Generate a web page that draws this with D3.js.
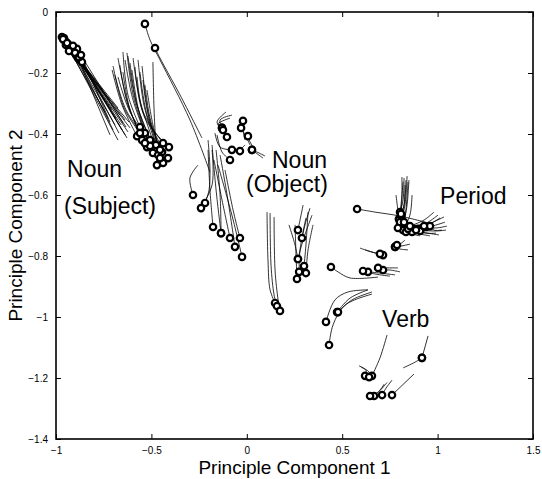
<!DOCTYPE html>
<html><head><meta charset="utf-8">
<script src="https://cdn.jsdelivr.net/npm/d3@7"></script>
<style>body{margin:0;background:#fff}svg{display:block}text{font-family:"Liberation Sans",Arial,sans-serif}</style>
</head><body><svg id="c" width="542" height="479"></svg>
<script>
const xTicks=[-1,-0.5,0,0.5,1,1.5];
const yTicks=[0,-0.2,-0.4,-0.6,-0.8,-1,-1.2,-1.4];
const xLabel="Principle Component 1";
const yLabel="Principle Component 2";
// trajectories: each is a list of [pc1, pc2] points; the circle marks the last point
const nounSubjectA=[
[[-0.717,-0.289],[-0.969,-0.082]],[[-0.675,-0.315],[-0.958,-0.092]],[[-0.665,-0.338],[-0.948,-0.098]],
[[-0.727,-0.348],[-0.937,-0.105]],[[-0.638,-0.354],[-0.927,-0.115]],[[-0.691,-0.370],[-0.916,-0.125]],
[[-0.654,-0.387],[-0.906,-0.131]],[[-0.623,-0.393],[-0.895,-0.141]],[[-0.717,-0.403],[-0.885,-0.151]],
[[-0.628,-0.413],[-0.874,-0.157]],[[-0.612,-0.380],[-0.948,-0.108]],[[-0.675,-0.420],[-0.927,-0.125]],
[[-0.649,-0.364],[-0.890,-0.121]],[[-0.706,-0.321],[-0.958,-0.085]],[[-0.638,-0.403],[-0.864,-0.164]],
[[-0.743,-0.328],[-0.963,-0.089]],[[-0.686,-0.348],[-0.942,-0.102]],[[-0.659,-0.370],[-0.921,-0.118]],
[[-0.701,-0.387],[-0.900,-0.134]],[[-0.633,-0.377],[-0.880,-0.148]],[[-0.670,-0.397],[-0.911,-0.111]],
[[-0.617,-0.361],[-0.932,-0.128]],[[-0.717,-0.361],[-0.869,-0.141]]];
const nounSubjectB=[
[[-0.649,-0.131],[-0.623,-0.272],[-0.560,-0.377]],[[-0.628,-0.134],[-0.596,-0.272],[-0.534,-0.397]],
[[-0.706,-0.190],[-0.654,-0.305],[-0.575,-0.407]],[[-0.691,-0.207],[-0.633,-0.321],[-0.518,-0.426]],
[[-0.675,-0.213],[-0.612,-0.328],[-0.497,-0.436]],[[-0.612,-0.167],[-0.575,-0.305],[-0.481,-0.452]],
[[-0.586,-0.180],[-0.549,-0.321],[-0.439,-0.430]],[[-0.575,-0.213],[-0.534,-0.348],[-0.408,-0.443]],
[[-0.560,-0.197],[-0.523,-0.338],[-0.444,-0.459]],[[-0.544,-0.223],[-0.507,-0.361],[-0.413,-0.479]],
[[-0.523,-0.256],[-0.492,-0.370],[-0.439,-0.495]],[[-0.492,-0.164],[-0.486,-0.321],[-0.471,-0.502]],
[[-0.638,-0.157],[-0.596,-0.289],[-0.492,-0.462]],[[-0.596,-0.151],[-0.560,-0.289],[-0.465,-0.469]],
[[-0.665,-0.174],[-0.623,-0.305],[-0.523,-0.443]],
[[-0.675,-0.151],[-0.628,-0.289],[-0.549,-0.420]],[[-0.623,-0.144],[-0.581,-0.295],[-0.507,-0.420]],
[[-0.570,-0.157],[-0.539,-0.305],[-0.476,-0.436]],[[-0.701,-0.177],[-0.643,-0.315],[-0.560,-0.397]],
[[-0.534,-0.239],[-0.507,-0.348],[-0.455,-0.452]],[[-0.602,-0.190],[-0.565,-0.328],[-0.507,-0.439]],
[[-0.549,-0.177],[-0.518,-0.328],[-0.455,-0.479]],[[-0.649,-0.197],[-0.612,-0.321],[-0.534,-0.430]]];
const longTracks=[
[[-0.193,-0.525],[-0.298,-0.354],[-0.455,-0.157],[-0.507,-0.092],[-0.534,-0.039]],
[[-0.235,-0.413],[-0.350,-0.272],[-0.455,-0.151],[-0.481,-0.118]]];
const midClusterC=[
[[-0.078,-0.338],[-0.140,-0.354],[-0.130,-0.380]],[[-0.088,-0.348],[-0.151,-0.367],[-0.130,-0.380]],
[[-0.109,-0.328],[-0.156,-0.361],[-0.125,-0.387]],[[-0.167,-0.397],[-0.140,-0.443],[-0.078,-0.452]],
[[-0.156,-0.403],[-0.130,-0.459],[-0.088,-0.485]],[[-0.151,-0.370],[-0.130,-0.393],[-0.104,-0.410]],
[[0.085,-0.479],[0.048,-0.462],[0.027,-0.452]],[[0.095,-0.472],[0.053,-0.459],[0.027,-0.452]],
[[-0.009,-0.420],[-0.020,-0.387],[-0.020,-0.357]],[[0.017,-0.436],[-0.009,-0.403],[-0.030,-0.380]],
[[0.043,-0.452],[0.017,-0.426],[0.006,-0.407]],[[-0.009,-0.436],[-0.025,-0.446],[-0.036,-0.456]]];
const lowClusterD=[
[[-0.256,-0.502],[-0.298,-0.544],[-0.282,-0.600]],
[[-0.203,-0.420],[-0.193,-0.518],[-0.198,-0.584],[-0.219,-0.626]],
[[-0.182,-0.452],[-0.182,-0.567],[-0.240,-0.643]],
[[-0.203,-0.452],[-0.193,-0.584],[-0.177,-0.705]],
[[-0.182,-0.436],[-0.161,-0.584],[-0.135,-0.725]],
[[-0.161,-0.452],[-0.140,-0.600],[-0.135,-0.725]],
[[-0.172,-0.485],[-0.130,-0.616],[-0.088,-0.741]],
[[-0.140,-0.469],[-0.099,-0.616],[-0.062,-0.770]],
[[-0.114,-0.518],[-0.072,-0.649],[-0.036,-0.741]],
[[-0.151,-0.502],[-0.078,-0.666],[-0.025,-0.803]]];
const nounObject=[
[[0.106,-0.656],[0.111,-0.813],[0.122,-0.911],[0.148,-0.954]],
[[0.122,-0.659],[0.127,-0.830],[0.143,-0.928],[0.158,-0.964]],
[[0.143,-0.672],[0.148,-0.846],[0.164,-0.944],[0.174,-0.980]],
[[0.295,-0.633],[0.279,-0.682],[0.268,-0.715]],
[[0.331,-0.643],[0.305,-0.698],[0.289,-0.741]],
[[0.342,-0.666],[0.295,-0.748],[0.268,-0.810]],
[[0.321,-0.656],[0.310,-0.764],[0.300,-0.833]],
[[0.310,-0.675],[0.279,-0.780],[0.274,-0.852]],
[[0.347,-0.698],[0.321,-0.780],[0.310,-0.856]],
[[0.253,-0.698],[0.258,-0.797],[0.263,-0.875]],
[[0.221,-0.698],[0.253,-0.764],[0.268,-0.810]]];
const period=[
[[0.824,-0.544],[0.819,-0.616],[0.803,-0.656]],[[0.834,-0.551],[0.824,-0.633],[0.797,-0.679]],
[[0.840,-0.538],[0.829,-0.633],[0.803,-0.698]],[[0.845,-0.557],[0.834,-0.649],[0.819,-0.715]],
[[0.829,-0.567],[0.824,-0.633],[0.808,-0.669]],[[0.782,-0.600],[0.792,-0.649],[0.803,-0.689]],
[[0.866,-0.600],[0.855,-0.666],[0.819,-0.715]],
[[0.813,-0.541],[0.813,-0.616],[0.808,-0.662]],[[0.850,-0.551],[0.840,-0.633],[0.824,-0.689]],
[[0.819,-0.557],[0.808,-0.633],[0.792,-0.708]],
[[1.013,-0.675],[0.960,-0.695],[0.897,-0.711]],[[1.039,-0.689],[0.971,-0.702],[0.918,-0.708]],
[[1.049,-0.702],[0.992,-0.708],[0.939,-0.705]],[[1.023,-0.715],[0.981,-0.715],[0.960,-0.702]],
[[1.002,-0.666],[0.950,-0.689],[0.876,-0.711]],[[0.992,-0.725],[0.934,-0.725],[0.908,-0.718]],
[[0.960,-0.734],[0.908,-0.728],[0.866,-0.721]],[[0.908,-0.734],[0.866,-0.728],[0.834,-0.721]],
[[1.034,-0.672],[0.976,-0.689],[0.929,-0.702]],[[1.044,-0.715],[0.992,-0.718],[0.887,-0.715]],
[[1.007,-0.731],[0.950,-0.725],[0.845,-0.711]],[[0.981,-0.656],[0.929,-0.682],[0.855,-0.702]],
[[0.971,-0.695],[0.803,-0.669],[0.672,-0.656],[0.578,-0.646]]];
const midRightG=[
[[0.855,-0.761],[0.813,-0.767],[0.777,-0.770]],[[0.845,-0.780],[0.803,-0.777],[0.777,-0.770]],
[[0.829,-0.748],[0.803,-0.761],[0.787,-0.764]],[[0.620,-0.780],[0.672,-0.790],[0.714,-0.797]],
[[0.593,-0.774],[0.656,-0.787],[0.698,-0.793]],[[0.803,-0.852],[0.750,-0.846],[0.714,-0.846]],
[[0.792,-0.839],[0.740,-0.839],[0.688,-0.839]],[[0.777,-0.862],[0.698,-0.856],[0.635,-0.852]],
[[0.750,-0.866],[0.672,-0.859],[0.609,-0.849]],
[[0.688,-0.869],[0.541,-0.872],[0.478,-0.852],[0.441,-0.836]]];
const verb=[
[[0.635,-0.911],[0.541,-0.938],[0.473,-0.984]],[[0.656,-0.918],[0.551,-0.944],[0.478,-0.984]],
[[0.635,-0.911],[0.530,-0.918],[0.462,-0.944],[0.415,-1.016]],
[[0.656,-0.925],[0.515,-0.961],[0.452,-1.026],[0.431,-1.092]],
[[0.735,-1.059],[0.698,-1.134],[0.656,-1.193]],
[[0.588,-1.160],[0.625,-1.175],[0.620,-1.193]],
[[0.600,-1.165],[0.640,-1.180],[0.641,-1.197]],
[[0.761,-1.207],[0.730,-1.233],[0.709,-1.256]],
[[0.735,-1.215],[0.700,-1.240],[0.667,-1.259]],
[[0.720,-1.220],[0.690,-1.245],[0.646,-1.259]],
[[0.876,-1.187],[0.761,-1.256]],
[[0.950,-1.062],[0.918,-1.134]],
[[0.819,-1.167],[0.882,-1.148],[0.918,-1.134]]];
const annotations=[
{t:"Noun",x:-0.942,y:-0.541},{t:"(Subject)",x:-0.958,y:-0.662},
{t:"Noun",x:0.132,y:-0.511},{t:"(Object)",x:-0.004,y:-0.590},
{t:"Period",x:1.013,y:-0.630},{t:"Verb",x:0.709,y:-1.033}];

const groups=[nounSubjectA,nounSubjectB,longTracks,midClusterC,lowClusterD,nounObject,period,midRightG,verb];
const tracks=groups.flat();

const svg=d3.select("#c");
const L=56,R=533,T=12,B=439;
const x=d3.scaleLinear().domain([-1,1.5]).range([L,R]);
const y=d3.scaleLinear().domain([-1.4,0]).range([B,T]);
const line=d3.line().x(d=>x(d[0])).y(d=>y(d[1])).curve(d3.curveCatmullRom);

const g=svg.append("g");
g.selectAll("path.tr").data(tracks).join("path").attr("class","tr")
 .attr("d",line).attr("fill","none").attr("stroke","#000").attr("stroke-width",0.8);
g.selectAll("circle").data(tracks.map(t=>t[t.length-1])).join("circle")
 .attr("cx",d=>x(d[0])).attr("cy",d=>y(d[1])).attr("r",3.2)
 .attr("fill","#fff").attr("stroke","#000").attr("stroke-width",2.2);

const fmt=d=>String(d).replace("-","\u2212");
const ax=svg.append("g");
ax.append("g").attr("transform",`translate(0,${B})`).call(d3.axisBottom(x).tickValues(xTicks).tickSizeInner(-5).tickSizeOuter(0).tickPadding(8).tickFormat(fmt));
ax.append("g").attr("transform",`translate(0,${T})`).call(d3.axisTop(x).tickValues(xTicks).tickSizeInner(-5).tickSizeOuter(0).tickFormat(""));
ax.append("g").attr("transform",`translate(${L},0)`).call(d3.axisLeft(y).tickValues(yTicks).tickSizeInner(-5).tickSizeOuter(0).tickPadding(8).tickFormat(fmt));
ax.append("g").attr("transform",`translate(${R},0)`).call(d3.axisRight(y).tickValues(yTicks).tickSizeInner(-5).tickSizeOuter(0).tickFormat(""));
ax.selectAll(".domain").remove();
ax.selectAll(".tick line").attr("stroke","#000").attr("stroke-width",1);
ax.selectAll(".tick text").attr("font-size",10).attr("fill","#000").attr("font-family","Liberation Sans, Arial, sans-serif");
svg.append("rect").attr("x",L).attr("y",T).attr("width",R-L).attr("height",B-T)
 .attr("fill","none").attr("stroke","#000").attr("stroke-width",1.6);

svg.append("text").attr("x",(L+R)/2).attr("y",474).attr("text-anchor","middle").attr("font-size",19).text(xLabel);
svg.append("text").attr("transform",`translate(22,${(T+B)/2}) rotate(-90)`).attr("text-anchor","middle").attr("font-size",19).text(yLabel);

svg.selectAll("text.ann").data(annotations).join("text").attr("class","ann")
 .attr("x",d=>x(d.x)).attr("y",d=>y(d.y)).attr("font-size",23).attr("fill","#000").text(d=>d.t);
</script></body></html>
